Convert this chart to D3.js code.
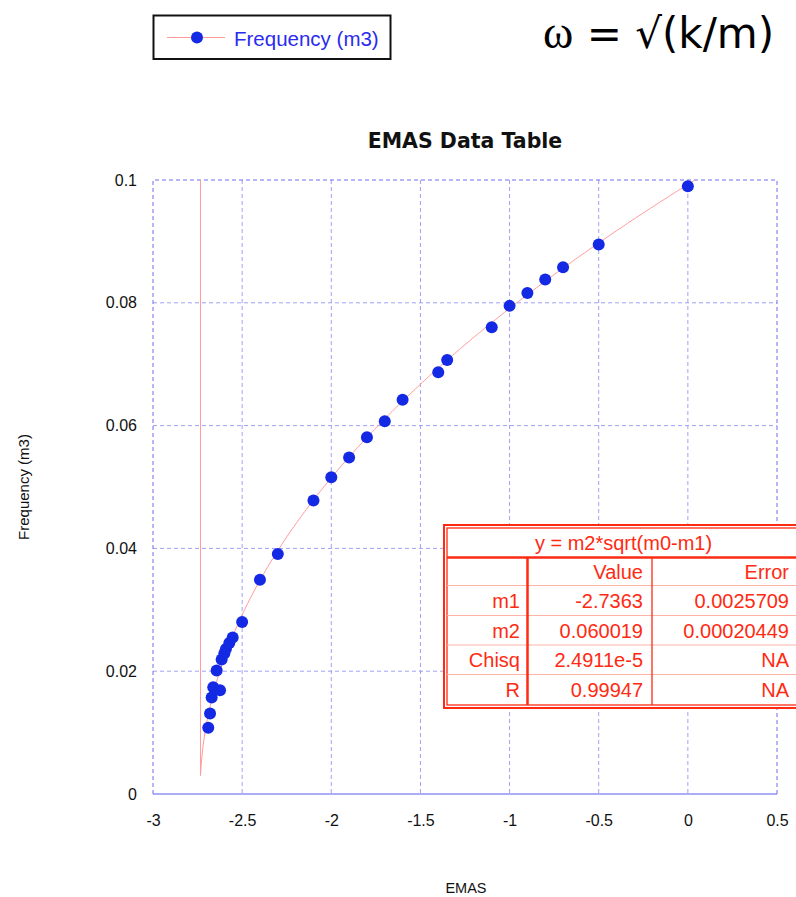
<!DOCTYPE html>
<html>
<head>
<meta charset="utf-8">
<script src="https://cdn.jsdelivr.net/npm/d3@7"></script>
<style>
  html, body { margin: 0; padding: 0; background: #fff; }
  svg { display: block; }
</style>
</head>
<body>
<svg id="chart" width="796" height="897"></svg>
<script>
// Measured EMAS values and the matching m3 frequency
const emas = [-2.69, -2.68, -2.671, -2.662, -2.624, -2.643, -2.615, -2.6, -2.591, -2.572, -2.553, -2.5,
              -2.4, -2.3, -2.1, -2.0, -1.9, -1.8, -1.7, -1.6, -1.4, -1.35, -1.1, -1.0, -0.9, -0.8, -0.7, -0.5, 0];
const frequency = [0.0108, 0.0131, 0.0157, 0.0174, 0.0169, 0.0201, 0.0219, 0.0229, 0.0236, 0.0246, 0.0255, 0.0280,
                   0.0349, 0.0391, 0.0478, 0.0516, 0.0548, 0.0581, 0.0607, 0.0642, 0.0687, 0.0707, 0.0760, 0.0795,
                   0.0816, 0.0838, 0.0858, 0.0895, 0.0990];

// Axis ticks
const xTicks = [-3, -2.5, -2, -1.5, -1, -0.5, 0, 0.5];
const xTickLabels = ["-3", "-2.5", "-2", "-1.5", "-1", "-0.5", "0", "0.5"];
const yTicks = [0, 0.02, 0.04, 0.06, 0.08, 0.1];
const yTickLabels = ["0", "0.02", "0.04", "0.06", "0.08", "0.1"];

// Curve fit y = m2*sqrt(m0-m1) and its statistics
const fitParams = { m1: -2.7363, m2: 0.060019 };
const fitRowNames = ["m1", "m2", "Chisq", "R"];
const fitValues = ["-2.7363", "0.060019", "2.4911e-5", "0.99947"];
const fitErrors = ["0.0025709", "0.00020449", "NA", "NA"];

const svg = d3.select("#chart");
const plot = { left: 153, right: 777, top: 180, bottom: 794 };

const x = d3.scaleLinear().domain([-3, 0.5]).range([plot.left, plot.right]);
const y = d3.scaleLinear().domain([0, 0.1]).range([plot.bottom, plot.top]);

const gridColor = "#a0a0f6";
const edgeColor = "#6d6df0";
const markColor = "#1329e3";
const fitColor = "#ff9a9a";
const tableRed = "#ff2a12";
const sans = "'Liberation Sans', Arial, sans-serif";

// Grid lines
const grid = svg.append("g");
grid.selectAll("line.vx")
  .data(xTicks.filter(t => t > -3 && t < 0.5))
  .join("line")
  .attr("x1", d => x(d)).attr("x2", d => x(d))
  .attr("y1", plot.top).attr("y2", plot.bottom)
  .attr("stroke", gridColor).attr("stroke-width", 1).attr("stroke-dasharray", "4,3");
grid.selectAll("line.hy")
  .data(yTicks.filter(t => t > 0 && t < 0.1))
  .join("line")
  .attr("x1", plot.left).attr("x2", plot.right)
  .attr("y1", d => y(d)).attr("y2", d => y(d))
  .attr("stroke", gridColor).attr("stroke-width", 1).attr("stroke-dasharray", "4,3");

// Plot frame: dashed top/left/right, solid base line
const frame = svg.append("g").attr("fill", "none");
frame.append("path")
  .attr("d", `M${plot.left},${plot.bottom}V${plot.top}H${plot.right}V${plot.bottom}`)
  .attr("stroke", edgeColor).attr("stroke-width", 1).attr("stroke-dasharray", "4,3");
frame.append("line")
  .attr("x1", plot.left).attr("x2", plot.right)
  .attr("y1", plot.bottom).attr("y2", plot.bottom)
  .attr("stroke", "#5a5af0").attr("stroke-width", 1.2);

// Tick labels via d3 axes (labels only)
const xAxis = svg.append("g")
  .attr("transform", `translate(0,${plot.bottom + 18})`)
  .call(d3.axisBottom(x).tickValues(xTicks).tickSize(0)
        .tickFormat((d, i) => xTickLabels[i]));
xAxis.select(".domain").remove();
xAxis.selectAll("text").attr("font-family", sans).attr("font-size", 16).attr("fill", "#111");

const yAxis = svg.append("g")
  .attr("transform", `translate(${plot.left - 13},0)`)
  .call(d3.axisLeft(y).tickValues(yTicks).tickSize(0)
        .tickFormat((d, i) => yTickLabels[i]));
yAxis.select(".domain").remove();
yAxis.selectAll("text").attr("font-family", sans).attr("font-size", 16).attr("fill", "#111");

// Clip for the fit curve
svg.append("clipPath").attr("id", "plotClip")
  .append("rect").attr("x", plot.left).attr("y", plot.top)
  .attr("width", plot.right - plot.left).attr("height", plot.bottom - plot.top);

// Fit curve, drawn from the fitted parameters
const x0 = fitParams.m1 + 0.0025;
const curveX = [x0].concat(d3.range(x0 + 0.005, 0.55, 0.01));
const curvePts = [[x0, 0.12]].concat(curveX.map(v => [v, fitParams.m2 * Math.sqrt(v - fitParams.m1)]));
svg.append("path")
  .attr("clip-path", "url(#plotClip)")
  .attr("d", d3.line().x(d => x(d[0])).y(d => y(d[1]))(curvePts))
  .attr("fill", "none").attr("stroke", fitColor).attr("stroke-width", 1);

// Data markers
svg.append("g").selectAll("circle")
  .data(emas.map((e, i) => [e, frequency[i]]))
  .join("circle")
  .attr("cx", d => x(d[0])).attr("cy", d => y(d[1]))
  .attr("r", 6).attr("fill", markColor);

// Title and axis titles
svg.append("text").attr("x", 465).attr("y", 148).attr("text-anchor", "middle")
  .attr("font-family", "'DejaVu Sans', Verdana, sans-serif").attr("font-weight", "bold")
  .attr("font-size", 20.5).attr("fill", "#111").text("EMAS Data Table");
svg.append("text").attr("x", 466).attr("y", 893).attr("text-anchor", "middle")
  .attr("font-family", sans).attr("font-size", 14.5).attr("fill", "#111").text("EMAS");
svg.append("text").attr("transform", "translate(29,487) rotate(-90)").attr("text-anchor", "middle")
  .attr("font-family", sans).attr("font-size", 15).attr("fill", "#111").text("Frequency (m3)");

// Legend
const legend = svg.append("g");
legend.append("rect").attr("x", 153.5).attr("y", 15.5).attr("width", 237).attr("height", 43.5)
  .attr("fill", "#fff").attr("stroke", "#111").attr("stroke-width", 2);
legend.append("line").attr("x1", 167).attr("x2", 225).attr("y1", 37.5).attr("y2", 37.5)
  .attr("stroke", fitColor).attr("stroke-width", 1.2);
legend.append("circle").attr("cx", 197).attr("cy", 37.5).attr("r", 6).attr("fill", markColor);
legend.append("text").attr("x", 234).attr("y", 46)
  .attr("font-family", sans).attr("font-size", 20.5).attr("fill", "#2b2bf0").text("Frequency (m3)");

// Formula in the upper right
const formula = svg.append("text").attr("x", 543).attr("y", 48)
  .attr("font-family", "'DejaVu Sans', sans-serif").attr("font-size", 42).attr("fill", "#000");
formula.append("tspan").attr("font-family", "'Liberation Serif', 'DejaVu Serif', serif").attr("font-size", 46).text("ω");
formula.append("tspan").text(" = √(k/m)");

// Fit results table
const tbl = svg.append("g");
const tL = 444, tR = 803, tT = 525, tB = 708;
const headBottom = 557.5;
const rowLines = [585.5, 615.5, 645, 674.5];
const col1 = 527.5, col2 = 652;
tbl.append("rect").attr("x", tL).attr("y", tT).attr("width", tR - tL).attr("height", tB - tT)
  .attr("fill", "#fff").attr("stroke", tableRed).attr("stroke-width", 2);
tbl.append("rect").attr("x", tL + 3).attr("y", tT + 3).attr("width", tR - tL - 6).attr("height", tB - tT - 6)
  .attr("fill", "none").attr("stroke", tableRed).attr("stroke-width", 1.3);
tbl.selectAll("line.row").data(rowLines).join("line")
  .attr("x1", tL + 3).attr("x2", tR - 3).attr("y1", d => d).attr("y2", d => d)
  .attr("stroke", "#ffb4a8").attr("stroke-width", 1);
tbl.append("line").attr("x1", tL + 3).attr("x2", tR - 3).attr("y1", headBottom).attr("y2", headBottom)
  .attr("stroke", tableRed).attr("stroke-width", 2.5);
tbl.append("line").attr("x1", col1).attr("x2", col1).attr("y1", headBottom).attr("y2", tB - 3)
  .attr("stroke", tableRed).attr("stroke-width", 2.5);
tbl.append("line").attr("x1", col2).attr("x2", col2).attr("y1", headBottom).attr("y2", tB - 3)
  .attr("stroke", tableRed).attr("stroke-width", 1.3);

const tText = (xx, yy, s, anchor) => tbl.append("text").attr("x", xx).attr("y", yy)
  .attr("text-anchor", anchor).attr("font-family", sans).attr("font-size", 20)
  .attr("fill", tableRed).text(s);
tText(623.5, 550, "y = m2*sqrt(m0-m1)", "middle");
tText(643, 578.5, "Value", "end");
tText(789, 578.5, "Error", "end");
const rowBase = [608, 637.5, 667, 697];
fitRowNames.forEach((n, i) => {
  tText(520, rowBase[i], n, "end");
  tText(643, rowBase[i], fitValues[i], "end");
  tText(789, rowBase[i], fitErrors[i], "end");
});
</script>
</body>
</html>
